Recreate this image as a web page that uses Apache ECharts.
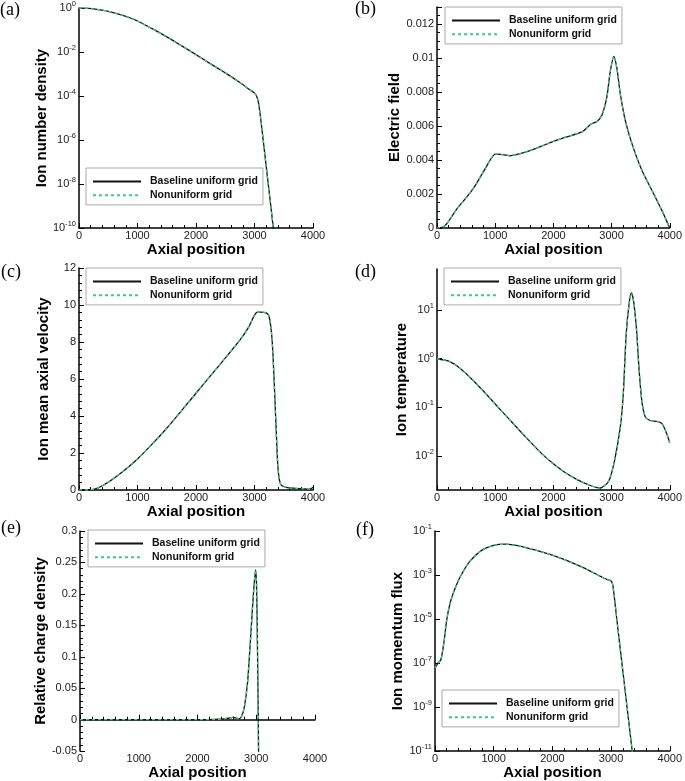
<!DOCTYPE html>
<html><head><meta charset="utf-8">
<script src="https://cdn.jsdelivr.net/npm/echarts@6/dist/echarts.min.js"></script>
<style>html,body{margin:0;padding:0;background:#fff}#c{width:685px;height:781px}</style>
</head><body><div id="c"></div>
<script>
const seriesNames = ['Baseline uniform grid', 'Nonuniform grid'];
const panelLabels = ['(a)', '(b)', '(c)', '(d)', '(e)', '(f)'];
const xTitle = 'Axial position';
const yTitles = ['Ion number density', 'Electric field', 'Ion mean axial velocity', 'Ion temperature', 'Relative charge density', 'Ion momentum flux'];

// (a) ion number density
const xA = [0, 100, 250, 500, 750, 1000, 1250, 1500, 1750, 2000, 2250, 2500, 2750, 2900, 3000, 3030, 3060, 3100, 3200, 3300, 3350];
const densityA = [1, 0.991, 0.917, 0.708, 0.457, 0.257, 0.115, 0.049, 0.0195, 7.6e-3, 2.9e-3, 1.12e-3, 4.1e-4, 2.1e-4, 1.35e-4, 1.05e-4, 6.3e-5, 1.26e-5, 6.3e-8, 3.2e-10, 2e-11];

// (b) electric field
const xB = [0, 60, 110, 160, 220, 335, 420, 506, 600, 676, 760, 847, 932, 1000, 1100, 1250, 1400, 1600, 1800, 2000, 2200, 2500, 2648, 2750, 2835, 2920, 2977, 3040, 3091, 3148, 3233, 3347, 3517, 3688, 3858, 4000];
const fieldB = [0, 0.00002, 0.00007, 0.00022, 0.0005, 0.0011, 0.00145, 0.0018, 0.00222, 0.0026, 0.0031, 0.0036, 0.0041, 0.00435, 0.00433, 0.00425, 0.00435, 0.00455, 0.00482, 0.00509, 0.00533, 0.00567, 0.00612, 0.00626, 0.00665, 0.00773, 0.0092, 0.0101, 0.0094, 0.00793, 0.00636, 0.00499, 0.00342, 0.00225, 0.00108, 0];

// (c) ion mean axial velocity
const xC = [0, 150, 300, 500, 750, 1000, 1250, 1500, 1750, 2000, 2250, 2500, 2750, 2900, 3000, 3050, 3100, 3200, 3248, 3288, 3316, 3365, 3402, 3447, 3544, 3700, 3850, 3950, 4000];
const velocityC = [0, 0, 0.08, 0.42, 1.0, 1.68, 2.48, 3.34, 4.28, 5.23, 6.18, 7.13, 8.1, 8.8, 9.45, 9.62, 9.62, 9.57, 9.39, 8.57, 7.31, 3.7, 1.17, 0.31, 0.14, 0.09, 0.06, 0.05, 0.15];

// (d) ion temperature
const xD = [0, 200, 400, 600, 800, 1000, 1200, 1500, 1800, 2000, 2200, 2400, 2600, 2800, 2950, 3050, 3150, 3200, 3250, 3300, 3340, 3380, 3430, 3470, 3520, 3580, 3660, 3780, 3870, 3950, 4000];
const temperatureD = [1, 0.891, 0.631, 0.380, 0.214, 0.117, 0.0646, 0.0263, 0.0112, 0.0069, 0.00457, 0.00331, 0.00257, 0.00219, 0.00302, 0.00794, 0.0398, 0.178, 3.02, 13.2, 22.9, 14.8, 3.80, 0.661, 0.135, 0.0631, 0.0537, 0.0513, 0.0457, 0.0282, 0.0186];

// (e) relative charge density
const xE = [0, 500, 1000, 1500, 2000, 2300, 2450, 2550, 2602, 2660, 2700, 2750, 2801, 2852, 2898, 2949, 2989, 3005, 3020, 3035, 3050];
const chargeE = [0, 0, 0, 0, 0, 0.0003, 0.0012, 0.0028, 0.0035, 0.0025, 0.0012, 0.005, 0.022, 0.059, 0.122, 0.196, 0.238, 0.215, 0.12, 0.0, -0.2];

// (f) ion momentum flux
const xF = [0, 50, 100, 150, 200, 250, 300, 400, 500, 600, 800, 1000, 1200, 1500, 2000, 2500, 2900, 3000, 3030, 3100, 3200, 3300, 3400];
const fluxF = [5.75e-8, 1e-7, 1.41e-7, 7.94e-7, 9.12e-6, 4.37e-5, 1.23e-4, 5.75e-4, 1.78e-3, 4.37e-3, 0.0135, 0.0224, 0.0251, 0.0191, 7.94e-3, 2.34e-3, 6.76e-4, 5.37e-4, 3.47e-4, 8.7e-6, 4.47e-8, 2.29e-10, 1.26e-12];

const panelX = [xA, xB, xC, xD, xE, xF];
const panelY = [densityA, fieldB, velocityC, temperatureD, chargeE, fluxF];

const FONT = '"Liberation Sans", Arial, Helvetica, sans-serif';
const grids = [
  {left: 79, top: 7, width: 234, height: 221},
  {left: 437, top: 7, width: 235, height: 221},
  {left: 79, top: 268, width: 234, height: 222},
  {left: 437, top: 269, width: 235, height: 221},
  {left: 80, top: 531, width: 235, height: 222},
  {left: 435, top: 531, width: 235, height: 221}
];
const legendPos = [[86, 168], [445, 7], [86, 268], [444, 268], [88, 530], [442, 690]];
const labelPos = [[0, 11], [355, 10], [1, 273], [355, 273], [1, 529], [356, 531]];

const axisLineStyle = {lineStyle: {color: '#000', width: 1.5}};
const tickStyle = {inside: true, length: 5, lineStyle: {color: '#000', width: 1}};
const labelStyle = {fontSize: 11, color: '#222', fontFamily: FONT};
const nameStyle = {fontSize: 15, fontWeight: 'bold', color: '#000', fontFamily: FONT};

const supFmt = v => '{b|10}{s|' + Math.round(Math.log10(v)) + '}';
const supRich = {
  b: {fontSize: 11, color: '#222', fontFamily: FONT},
  s: {fontSize: 7.5, color: '#222', fontFamily: FONT, padding: [0, 0, 8, 0]}
};

const yAxisCfg = [
  {type: 'log', min: 1e-10, max: 1, interval: 2, logLabel: true},
  {type: 'value', min: 0, max: 0.013, interval: 0.002, minor: 4},
  {type: 'value', min: 0, max: 12, interval: 2, minor: 5},
  {type: 'log', min: 0.002, max: 70, logLabel: true},
  {type: 'value', min: -0.05, max: 0.3, interval: 0.05, minor: 5},
  {type: 'log', min: 1e-11, max: 0.1, interval: 2, logLabel: true}
];

const xAxes = grids.map((g, i) => ({
  gridIndex: i, type: 'value', min: 0, max: 4000, interval: 1000,
  name: xTitle, nameLocation: 'middle', nameGap: 11, nameTextStyle: nameStyle,
  axisLine: axisLineStyle, axisTick: tickStyle,
  minorTick: {show: true, splitNumber: 5, length: 3, lineStyle: {color: '#000', width: 1}},
  splitLine: {show: false},
  axisLabel: Object.assign({margin: 2, formatter: v => String(v)}, labelStyle)
}));

const yAxes = yAxisCfg.map((c, i) => {
  const ax = {
    gridIndex: i, type: c.type, min: c.min, max: c.max,
    name: yTitles[i], nameLocation: 'middle', nameGap: 28, nameTextStyle: nameStyle,
    axisLine: axisLineStyle, axisTick: tickStyle,
    splitLine: {show: false},
    axisLabel: Object.assign({margin: 3, showMinLabel: true, showMaxLabel: true}, labelStyle)
  };
  if (c.interval) ax.interval = c.interval;
  if (c.type === 'log') { ax.logBase = 10; }
  if (c.minor) ax.minorTick = {show: true, splitNumber: c.minor, length: 3, lineStyle: {color: '#000', width: 1}};
  if (c.logLabel) { ax.axisLabel.formatter = supFmt; ax.axisLabel.rich = supRich; }
  if (i === 1) ax.axisLabel.showMaxLabel = false;
  if (i === 3) { ax.axisLabel.showMinLabel = false; ax.axisLabel.showMaxLabel = false; }
  return ax;
});

const series = [];
panelX.forEach((xs, i) => {
  const data = xs.map((x, k) => [x, panelY[i][k]]);
  series.push({
    name: seriesNames[0], type: 'line', xAxisIndex: i, yAxisIndex: i, data: data,
    symbol: 'none', smooth: 0.25, clip: true, z: 2,
    lineStyle: {color: '#111', width: 1.3}, itemStyle: {color: '#111'}
  });
  series.push({
    name: seriesNames[1], type: 'line', xAxisIndex: i, yAxisIndex: i, data: data,
    symbol: 'none', smooth: 0.25, clip: true, z: 3,
    lineStyle: {color: '#3dcc82', width: 1.3, type: [3, 3]}, itemStyle: {color: '#3dcc82'}
  });
});

const legends = legendPos.map(p => ({
  data: seriesNames, left: p[0], top: p[1], orient: 'vertical',
  itemWidth: 48, itemHeight: 14, itemGap: 2.5, selectedMode: false,
  padding: [8, 5, 4, 6], borderColor: '#aaa', borderWidth: 1, backgroundColor: '#fff',
  itemStyle: {opacity: 0, borderWidth: 0},
  textStyle: {fontSize: 10.5, fontWeight: 'bold', color: '#111', fontFamily: FONT, padding: [0, 0, 0, 4]}
}));

const graphics = labelPos.map((p, i) => ({
  type: 'text', left: p[0], top: p[1] - 10,
  style: {text: panelLabels[i], font: '18px "Liberation Serif", "DejaVu Serif", serif', fill: '#000'}
}));

const chart = echarts.init(document.getElementById('c'), null, {renderer: 'canvas'});
chart.setOption({
  animation: false,
  backgroundColor: '#fff',
  grid: grids,
  xAxis: xAxes,
  yAxis: yAxes,
  legend: legends,
  series: series,
  graphic: graphics
});
</script></body></html>
